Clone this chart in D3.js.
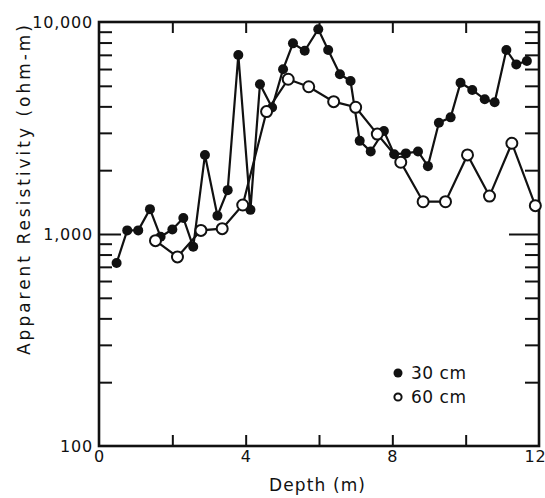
<!DOCTYPE html>
<html>
<head>
<meta charset="utf-8">
<script src="https://cdn.jsdelivr.net/npm/d3@7"></script>
<style>
  body { margin: 0; background: #fff; }
  text { font-family: "DejaVu Sans", sans-serif; fill: #111; }
</style>
</head>
<body>
<div id="chart"></div>
<script>
// 30 cm electrode spacing (filled dots)
var depth30 = [0.48, 0.77, 1.07, 1.39, 1.68, 2.0, 2.30, 2.57, 2.89, 3.23, 3.51, 3.80, 4.13,
  4.39, 4.72, 5.02, 5.29, 5.61, 5.98, 6.25, 6.57, 6.86, 7.11, 7.41, 7.77, 8.05, 8.37,
  8.70, 8.97, 9.27, 9.59, 9.86, 10.18, 10.52, 10.79, 11.11, 11.38, 11.67];
var res30 = [730, 1040, 1040, 1310, 970, 1050, 1190, 870, 2360, 1220, 1610, 6990, 1300,
  5090, 3950, 5980, 7930, 7320, 9240, 7380, 5670, 5270, 2750, 2450, 3060, 2380, 2400,
  2450, 2090, 3350, 3550, 5170, 4780, 4320, 4180, 7380, 6310, 6550];

// 60 cm electrode spacing (open dots)
var depth60 = [1.54, 2.14, 2.78, 3.36, 3.92, 4.57, 5.16, 5.72, 6.40, 7.0, 7.59, 8.23,
  8.84, 9.45, 10.05, 10.65, 11.26, 11.9];
var res60 = [930, 780, 1040, 1060, 1370, 3780, 5370, 4950, 4210, 3960, 2960, 2180,
  1420, 1420, 2360, 1510, 2680, 1360];

var xMinorTicks = [2, 4, 6, 8, 10];
var xTickLabels = [0, 4, 8, 12];
var yMinorTicks = [200, 300, 400, 500, 600, 700, 800, 900,
  2000, 3000, 4000, 5000, 6000, 7000, 8000, 9000];
var yMajorTicks = [1000];
var yTickLabels = [100, 1000, 10000];

var width = 545,
    height = 498;
var margin = {top: 22, right: 6, bottom: 52, left: 99};
var plotW = width - margin.left - margin.right,
    plotH = height - margin.top - margin.bottom;

var svg = d3.select('#chart')
  .append('svg')
    .attr('width', width)
    .attr('height', height);

var g = svg.append('g')
  .attr('transform', 'translate(' + margin.left + ',' + margin.top + ')');

var x = d3.scaleLinear().domain([0, 12]).range([0, plotW]);
var y = d3.scaleLog().domain([100, 10000]).range([plotH, 0]);

// tick marks pointing inward on all four sides
function tickOnly(axis, vals, size) {
  return axis.tickValues(vals).tickSizeInner(-size).tickSizeOuter(0).tickFormat('');
}
g.append('g').attr('class', 'ax').attr('transform', 'translate(0,' + plotH + ')')
  .call(tickOnly(d3.axisBottom(x), xMinorTicks, 11));
g.append('g').attr('class', 'ax')
  .call(tickOnly(d3.axisTop(x), xMinorTicks, 11));
g.append('g').attr('class', 'ax')
  .call(tickOnly(d3.axisLeft(y), yMinorTicks, 13));
g.append('g').attr('class', 'ax')
  .call(tickOnly(d3.axisLeft(y), yMajorTicks, 22));
g.append('g').attr('class', 'ax').attr('transform', 'translate(' + plotW + ',0)')
  .call(tickOnly(d3.axisRight(y), yMinorTicks, 14));
g.append('g').attr('class', 'ax').attr('transform', 'translate(' + plotW + ',0)')
  .call(tickOnly(d3.axisRight(y), yMajorTicks, 30));

g.selectAll('.ax path').remove();
g.selectAll('.ax line').attr('stroke', '#111').attr('stroke-width', 2);

// tick labels
var xl = g.append('g').attr('transform', 'translate(0,' + plotH + ')')
  .call(d3.axisBottom(x).tickValues(xTickLabels).tickSize(0).tickPadding(5)
    .tickFormat(d3.format('d')));
var yl = g.append('g')
  .call(d3.axisLeft(y).tickValues(yTickLabels).tickSize(0).tickPadding(6)
    .tickFormat(d3.format(',')));
xl.select('.domain').remove();
yl.select('.domain').remove();
svg.selectAll('.tick text')
  .style('font-family', '"DejaVu Sans", sans-serif')
  .style('font-size', '16px')
  .style('letter-spacing', '0.8px')
  .attr('fill', '#111');
xl.selectAll('.tick text').filter(function(d) { return d === 12; }).attr('dx', '-4');

// frame
g.append('rect')
  .attr('width', plotW)
  .attr('height', plotH)
  .attr('fill', 'none')
  .attr('stroke', '#111')
  .attr('stroke-width', 2.6);

var data30 = depth30.map(function(d, i) { return [d, res30[i]]; });
var data60 = depth60.map(function(d, i) { return [d, res60[i]]; });

var line = d3.line()
  .x(function(d) { return x(d[0]); })
  .y(function(d) { return y(d[1]); });

g.append('path').datum(data30).attr('d', line)
  .attr('fill', 'none').attr('stroke', '#111').attr('stroke-width', 2.2);
g.append('path').datum(data60).attr('d', line)
  .attr('fill', 'none').attr('stroke', '#111').attr('stroke-width', 2.2);

g.selectAll('.p30')
  .data(data30)
  .enter()
  .append('circle')
  .attr('class', 'p30')
  .attr('cx', function(d) { return x(d[0]); })
  .attr('cy', function(d) { return y(d[1]); })
  .attr('r', 5)
  .attr('fill', '#111');

g.selectAll('.p60')
  .data(data60)
  .enter()
  .append('circle')
  .attr('class', 'p60')
  .attr('cx', function(d) { return x(d[0]); })
  .attr('cy', function(d) { return y(d[1]); })
  .attr('r', 5.5)
  .attr('fill', '#fff')
  .attr('stroke', '#111')
  .attr('stroke-width', 2);

// legend
var leg = svg.append('g').attr('transform', 'translate(398,373)');
leg.append('circle').attr('r', 4.5).attr('fill', '#111');
leg.append('text').attr('x', 13).attr('y', 6).style('font-size', '17px')
  .attr('textLength', 55).text('30 cm');
leg.append('circle').attr('cy', 24).attr('r', 3.6)
  .attr('fill', '#fff').attr('stroke', '#111').attr('stroke-width', 2);
leg.append('text').attr('x', 13).attr('y', 30).style('font-size', '17px')
  .attr('textLength', 55).text('60 cm');

// axis titles
svg.append('text')
  .attr('x', margin.left + x(6) - 2)
  .attr('y', 491)
  .attr('text-anchor', 'middle')
  .style('font-size', '17px')
  .attr('textLength', 96)
  .text('Depth (m)');

svg.append('text')
  .attr('transform', 'translate(30,190) rotate(-90)')
  .attr('text-anchor', 'middle')
  .style('font-size', '17px')
  .attr('textLength', 330)
  .text('Apparent Resistivity (ohm-m)');
</script>
</body>
</html>
